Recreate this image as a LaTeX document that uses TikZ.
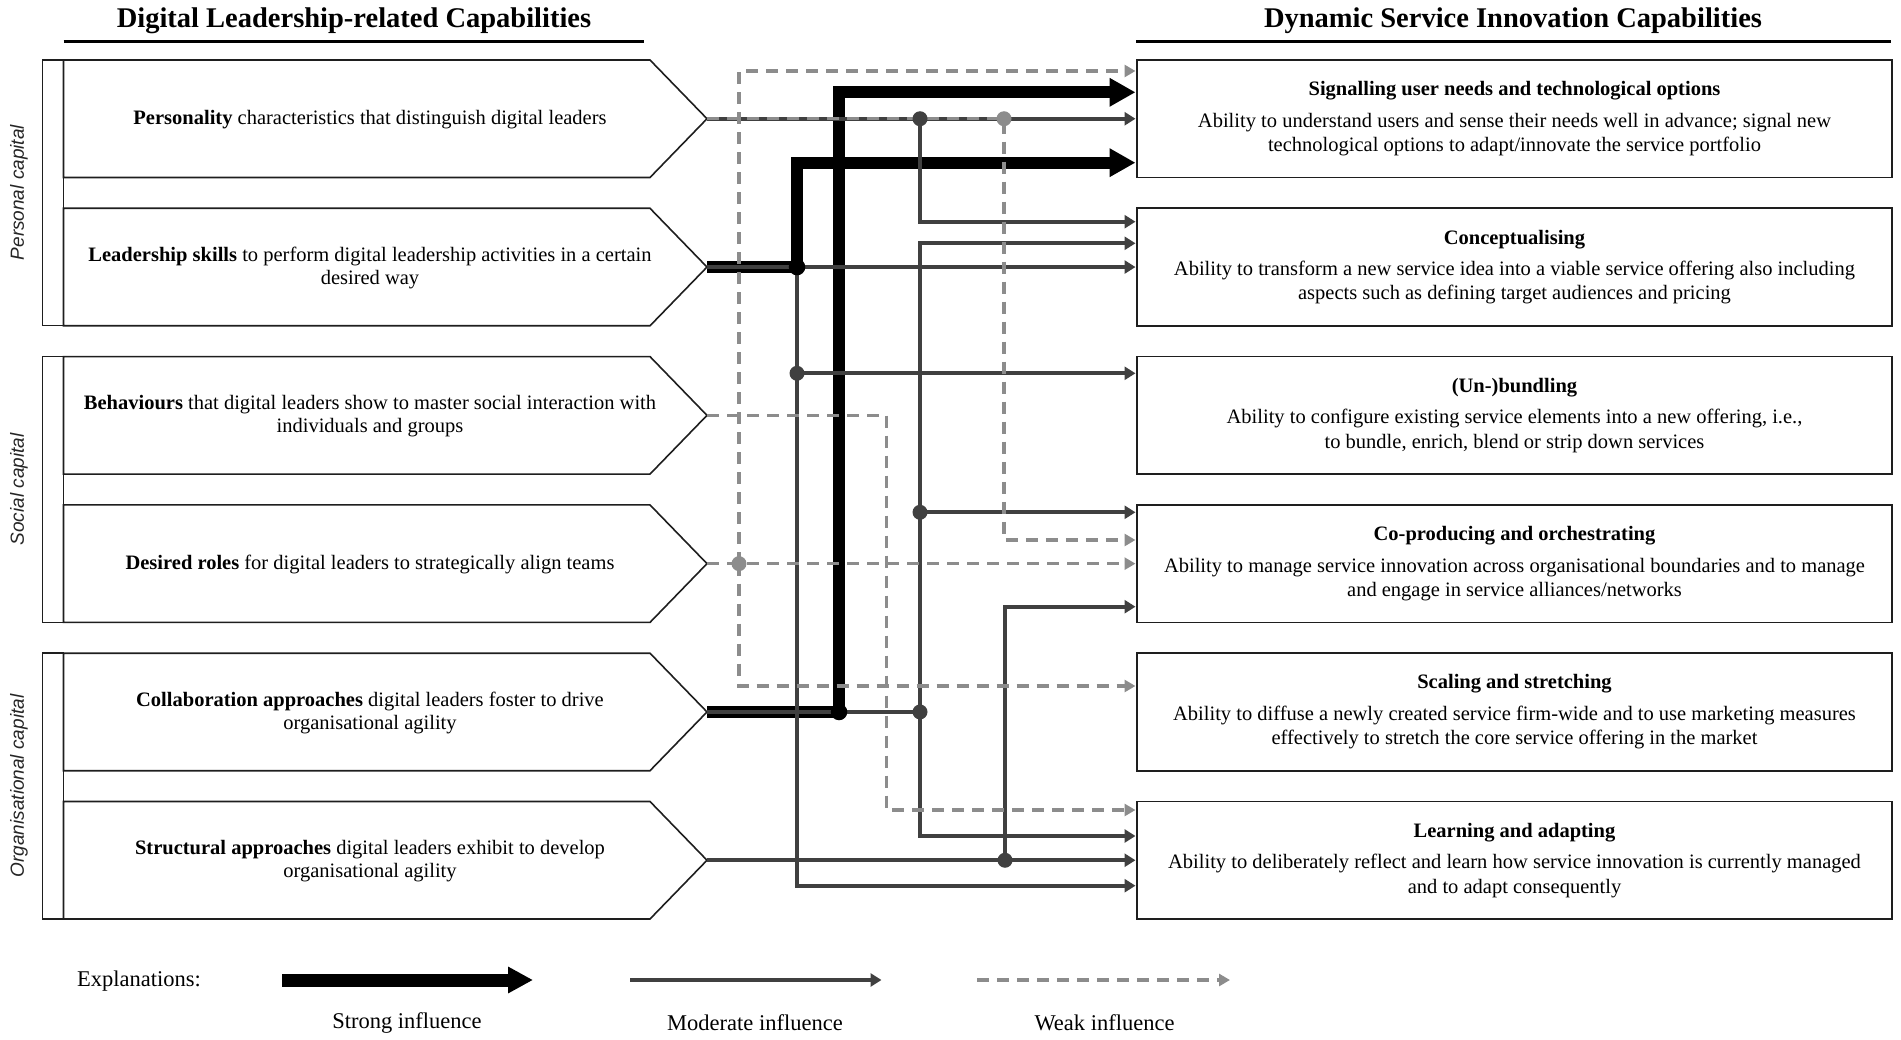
\documentclass[tikz,border=0pt]{standalone}
\usepackage{fontspec}
\setmainfont{Liberation Serif}
\setsansfont{Liberation Sans}
\usetikzlibrary{arrows.meta}
\definecolor{modc}{HTML}{404040}
\definecolor{weakc}{HTML}{8C8C8C}
\definecolor{boxc}{HTML}{1E1E1E}
\begin{document}
\begin{tikzpicture}[x=1pt,y=-1pt,
  txt/.style={font=\fontsize{20.5}{23.5}\selectfont, align=center, inner sep=0pt},
  rbox/.style={draw=boxc, line width=1.6pt, minimum width=755pt, minimum height=117.5pt, inner sep=0pt,
    font=\fontsize{20.5}{24.4}\selectfont, align=center},
  lbox/.style={draw=boxc, line width=1.6pt, fill=white},
  grpbar/.style={draw=boxc, line width=1.6pt},
  grplabel/.style={font=\fontsize{19}{22}\selectfont\sffamily\itshape, text=black!85, rotate=90},
  titlefont/.style={font=\fontsize{28.5}{32}\selectfont\bfseries},
  strongarr/.style={line width=12pt, draw=black, -{Triangle[length=26pt,width=27pt]}},
  modarr/.style={line width=4pt, draw=modc, -{Triangle[length=11pt,width=13pt]}},
  modseg/.style={line width=4pt, draw=modc},
  weakarr/.style={line width=3.2pt, draw=weakc, dash pattern=on 12pt off 8pt, -{Triangle[length=11pt,width=12pt]}},
  legfont/.style={font=\fontsize{22.5}{26}\selectfont},
]
\useasboundingbox (0,0) rectangle (1901,1040);

% titles
\node[titlefont, anchor=base] (TL) at (354,28) {Digital Leadership-related Capabilities};
\node[titlefont, anchor=base] (TR) at (1513,28) {Dynamic Service Innovation Capabilities};
\draw[line width=3pt] (63.5,41.7) -- (644,41.7);
\draw[line width=3pt] (1136,41.7) -- (1891,41.7);

% group bars
\draw[grpbar] (42.5,60) rectangle (63.5,325.5);
\draw[grpbar] (42.5,356.6) rectangle (63.5,622.4);
\draw[grpbar] (42.5,653.2) rectangle (63.5,919);
\node[grplabel] (G1) at (19,192.6) {Personal capital};
\node[grplabel] (G2) at (19,489.5) {Social capital};
\node[grplabel] (G3) at (19,786) {Organisational capital};

% left pentagons
\foreach \t in {60,208.3,356.6,504.9,653.2,801.5}
  \draw[lbox] (63.5,\t) -- (650,\t) -- (707,\t+58.75) -- (650,\t+117.5) -- (63.5,\t+117.5) -- cycle;
\coordinate (L1) at (707,118.75);
\coordinate (L2) at (707,267.05);
\coordinate (L3) at (707,415.35);
\coordinate (L4) at (707,563.65);
\coordinate (L5) at (707,711.95);
\coordinate (L6) at (707,860.25);

\node[txt] (T1) at (370,119.5) {\textbf{Personality} characteristics that distinguish digital leaders};
\node[txt] (T2) at (370,268) {\textbf{Leadership skills} to perform digital leadership activities in a certain\\desired way};
\node[txt] (T3) at (370,416.3) {\textbf{Behaviours} that digital leaders show to master social interaction with\\individuals and groups};
\node[txt] (T4) at (370,564.4) {\textbf{Desired roles} for digital leaders to strategically align teams};
\node[txt] (T5) at (370,712.9) {\textbf{Collaboration approaches} digital leaders foster to drive\\organisational agility};
\node[txt] (T6) at (370,861.2) {\textbf{Structural approaches} digital leaders exhibit to develop\\organisational agility};

% right boxes
\node[rbox] (R1) at (1514.5,118.75) {\textbf{Signalling user needs and technological options}\\[7pt]Ability to understand users and sense their needs well in advance; signal new\\technological options to adapt/innovate the service portfolio};
\node[rbox] (R2) at (1514.5,267.05) {\textbf{Conceptualising}\\[7pt]Ability to transform a new service idea into a viable service offering also including\\aspects such as defining target audiences and pricing};
\node[rbox] (R3) at (1514.5,415.35) {\textbf{(Un-)bundling}\\[7pt]Ability to configure existing service elements into a new offering, i.e.,\\to bundle, enrich, blend or strip down services};
\node[rbox] (R4) at (1514.5,563.65) {\textbf{Co-producing and orchestrating}\\[7pt]Ability to manage service innovation across organisational boundaries and to manage\\and engage in service alliances/networks};
\node[rbox] (R5) at (1514.5,711.95) {\textbf{Scaling and stretching}\\[7pt]Ability to diffuse a newly created service firm-wide and to use marketing measures\\effectively to stretch the core service offering in the market};
\node[rbox] (R6) at (1514.5,860.25) {\textbf{Learning and adapting}\\[7pt]Ability to deliberately reflect and learn how service innovation is currently managed\\and to adapt consequently};

% junctions and corners
\coordinate (j2) at (797,267.05);
\coordinate (j5) at (839,711.95);
\coordinate (d11) at (920,118.75);
\coordinate (d12) at (1004,118.75);
\coordinate (d2) at (797,373.3);
\coordinate (d51) at (920,711.95);
\coordinate (d52) at (920,512.3);
\coordinate (d6) at (1005,860.25);
\coordinate (d4) at (739,563.65);
\coordinate (c3) at (886.7,415.35);

% arrow targets on the right boxes
\coordinate (a1w)  at (1135.5,71);
\coordinate (a1s5) at (1135.5,92.3);
\coordinate (a1m)  at (1135.5,118.75);
\coordinate (a1s2) at (1135.5,162.7);
\coordinate (a2m1) at (1135.5,221.7);
\coordinate (a2m5) at (1135.5,243.3);
\coordinate (a2m2) at (1135.5,267.05);
\coordinate (a3m)  at (1135.5,373.3);
\coordinate (a4m5) at (1135.5,512.3);
\coordinate (a4w1) at (1135.5,540);
\coordinate (a4w4) at (1135.5,563.65);
\coordinate (a4m6) at (1135.5,606.7);
\coordinate (a5w)  at (1135.5,686);
\coordinate (a6w3) at (1135.5,810);
\coordinate (a6m5) at (1135.5,836);
\coordinate (a6m6) at (1135.5,860.25);
\coordinate (a6m2) at (1135.5,885.7);

% strong influence
\draw[strongarr] (L5) -- (j5) |- (a1s5);
\draw[strongarr] (L2) -- (j2) |- (a1s2);

% moderate influence
\draw[modarr] (L1) -- (a1m);
\draw[modarr] (d11) |- (a2m1);
\draw[modarr] (L2) -- (a2m2);
\draw[modarr] (j2) |- (a6m2);
\draw[modarr] (d2) -- (a3m);
\draw[modseg] (L5) -- (d51);
\draw[modarr] (d51) |- (a2m5);
\draw[modarr] (d52) -- (a4m5);
\draw[modarr] (d51) |- (a6m5);
\draw[modarr] (L6) -- (a6m6);
\draw[modarr] (d6) |- (a4m6);

% weak influence
\draw[weakarr] (L1) -- (d12) |- (a4w1);
\draw[weakarr] (L3) -- (c3) |- (a6w3);
\draw[weakarr] (L4) -- (a4w4);
\draw[weakarr] (d4) |- (a1w);
\draw[weakarr] (d4) |- (a5w);

% dots
\fill[black] (j2) circle (8.3pt);
\fill[black] (j5) circle (8.3pt);
\foreach \p in {d11,d2,d51,d52,d6} \fill[modc] (\p) circle (7.5pt);
\foreach \p in {d12,d4} \fill[weakc] (\p) circle (7.5pt);

% legend
\node[legfont] (EX) at (139,981) {Explanations:};
\coordinate (s0) at (282,980);
\coordinate (s1) at (533,980);
\coordinate (m0) at (630,980);
\coordinate (m1) at (881.5,980);
\coordinate (w0) at (977,980);
\coordinate (w1) at (1230,980);
\draw[strongarr, line width=13pt, -{Triangle[length=25pt,width=25pt]}] (s0) -- (s1);
\draw[modarr, line width=4.5pt] (m0) -- (m1);
\draw[weakarr] (w0) -- (w1);
\node[legfont] (LS) at (407,1022.5) {Strong influence};
\node[legfont] (LM) at (755,1022.5) {Moderate influence};
\node[legfont] (LW) at (1104.5,1022.5) {Weak influence};
\end{tikzpicture}
\end{document}
